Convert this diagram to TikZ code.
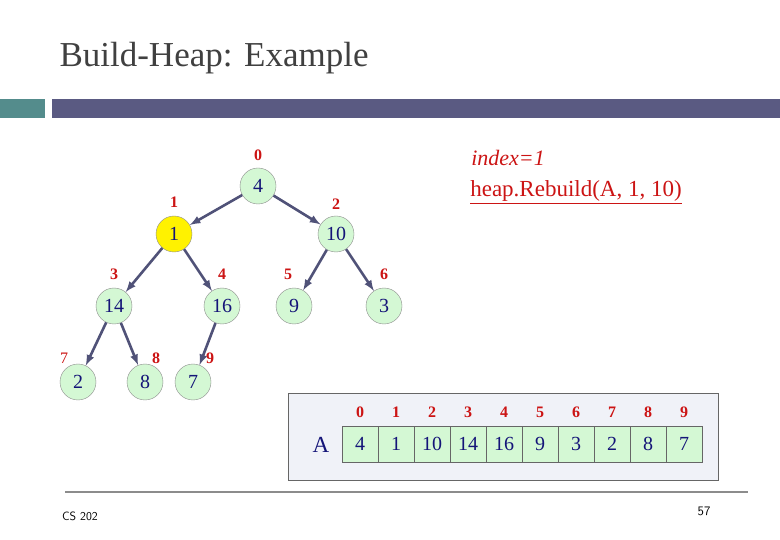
\documentclass[tikz,border=0pt]{standalone}
\usepackage{fontspec}
\setmainfont{Liberation Serif}
\usetikzlibrary{calc}
\definecolor{idxred}{RGB}{204,20,20}
\definecolor{numblue}{RGB}{20,20,120}
\definecolor{nodegreen}{RGB}{212,248,212}
\definecolor{edgeblue}{RGB}{80,82,120}
\definecolor{barteal}{RGB}{84,140,140}
\definecolor{barslate}{RGB}{90,90,130}
\definecolor{boxgray}{RGB}{240,242,248}

\begin{document}
\begin{tikzpicture}[x=1pt,y=-1pt]
\tikzstyle{hnode}=[draw=black!45,fill=nodegreen,circle,minimum size=36pt,inner sep=0pt,text=numblue,font=\fontsize{20}{20}\selectfont]
\tikzstyle{idx}=[text=idxred,font=\bfseries\fontsize{16}{16}\selectfont]
\tikzstyle{edge}=[-latex,line width=2.6pt,draw=edgeblue]
\tikzstyle{cell}=[draw=black!60,fill=nodegreen,minimum width=36pt,minimum height=36pt,inner sep=0pt,text=numblue,font=\fontsize{20}{20}\selectfont]
\useasboundingbox (0,0) rectangle (780,540);
\fill[white] (0,0) rectangle (780,540);

% Title and bars
\node[anchor=west,font=\fontsize{35}{35}\selectfont,text=black!75] (title) at (56,58) {Build-Heap: Example};
\fill[barteal] (0,99) rectangle (45,118);
\fill[barslate] (52,99) rectangle (780,118);

% Heap nodes
\node[hnode] (n0) at (258,186) {4};
\node[hnode,fill=yellow] (n1) at (174,234) {1};
\node[hnode] (n2) at (336,234) {10};
\node[hnode] (n3) at (114,306) {14};
\node[hnode] (n4) at (222,306) {16};
\node[hnode] (n5) at (294,306) {9};
\node[hnode] (n6) at (384,306) {3};
\node[hnode] (n7) at (78,382) {2};
\node[hnode] (n8) at (145,382) {8};
\node[hnode] (n9) at (193,382) {7};

% Index labels
\node[idx] (l0) at (258,155) {0};
\node[idx] (l1) at (174,202) {1};
\node[idx] (l2) at (336,204) {2};
\node[idx] (l3) at (114,274) {3};
\node[idx] (l4) at (222,274) {4};
\node[idx] (l5) at (288,274) {5};
\node[idx] (l6) at (384,274) {6};
\node[idx,font=\fontsize{16}{16}\selectfont] (l7) at (64,358) {7};
\node[idx] (l8) at (156,358) {8};
\node[idx] (l9) at (210,358) {9};

% Edges
\draw[edge] (n0) -- (n1);
\draw[edge] (n0) -- (n2);
\draw[edge] (n1) -- (n3);
\draw[edge] (n1) -- (n4);
\draw[edge] (n2) -- (n5);
\draw[edge] (n2) -- (n6);
\draw[edge] (n3) -- (n7);
\draw[edge] (n3) -- (n8);
\draw[edge] (n4) -- (n9);

% Call text
\node[text=idxred,font=\itshape\fontsize{22}{22}\selectfont] (index) at (508,158) {index=1};
\node[text=idxred,font=\fontsize{23}{23}\selectfont] (call) at (576,192) {\underline{heap.Rebuild(A, 1, 10)}};

% Array
\draw[black!60,fill=boxgray] (288,393) rectangle (718,480);
\node[text=numblue,font=\fontsize{23}{23}\selectfont] (arrA) at (321,445) {A};
\foreach \v [count=\i from 0] in {4,1,10,14,16,9,3,2,8,7}{
  \node[cell] (c\i) at (360+36*\i,444) {\v};
  \node[idx] (ci\i) at (360+36*\i,412) {\i};
}

% Footer
\draw[black!45,line width=1.5pt] (65,492) -- (748,492);
\node[font=\sffamily\fontsize{12}{12}\selectfont] (course) at (80,516) {CS 202};
\node[font=\sffamily\fontsize{13}{13}\selectfont] (page) at (704,511) {57};
\end{tikzpicture}
\end{document}
